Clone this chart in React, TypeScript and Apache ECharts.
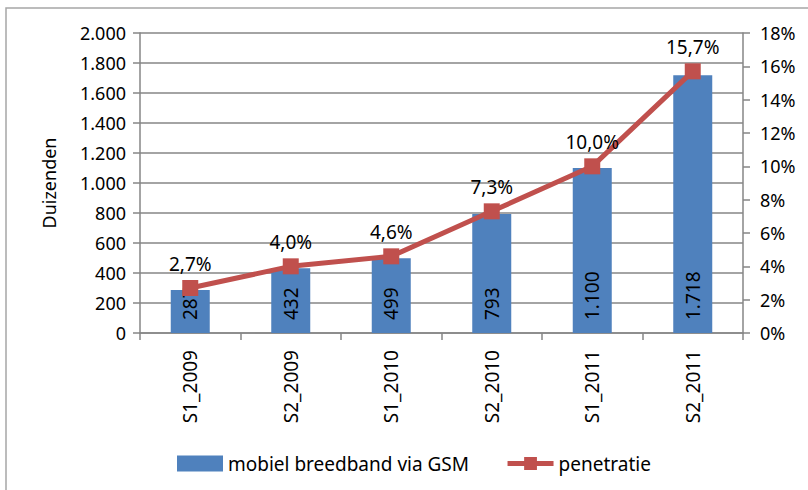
import React, { useEffect, useRef } from "react";
import * as echarts from "echarts";

const categories = ["S1_2009", "S2_2009", "S1_2010", "S2_2010", "S1_2011", "S2_2011"];
const breedband = [287, 432, 499, 793, 1100, 1718];
const penetratie = [2.7, 4.0, 4.6, 7.3, 10.0, 15.7];
const barName = "mobiel breedband via GSM";
const lineName = "penetratie";
const yAxisName = "Duizenden";

const FONT = "Noto Sans";
const fmtThousands = (v: number) =>
  String(Math.round(v)).replace(/\B(?=(\d{3})+(?!\d))/g, ".");

export default function App() {
  const ref = useRef<HTMLDivElement>(null);
  useEffect(() => {
    if (!ref.current) return;
    const chart = echarts.init(ref.current, null, { renderer: "svg" });
    const axisGray = "#868686";
    chart.setOption({
      animation: false,
      backgroundColor: "#ffffff",
      textStyle: { fontFamily: FONT, color: "#000" },
      graphic: [
        {
          type: "rect",
          shape: { x: 6, y: 8, width: 820, height: 500 },
          style: { fill: "none", stroke: "#a6a6a6", lineWidth: 1.5 },
          silent: true,
        },
      ],
      grid: { left: 140, right: 65, top: 33, bottom: 157 },
      legend: {
        left: 172,
        top: 449,
        itemWidth: 46,
        itemHeight: 16,
        itemGap: 36,
        lineStyle: { width: 5 },
        textStyle: { fontFamily: FONT, fontSize: 19, color: "#000" },
        data: [
          { name: barName, icon: "rect" },
          { name: lineName },
        ],
      },
      xAxis: {
        type: "category",
        data: categories,
        boundaryGap: true,
        axisLine: { lineStyle: { color: axisGray, width: 1.5 } },
        axisTick: { show: true, alignWithLabel: false, length: 7, lineStyle: { color: axisGray, width: 1.5 } },
        axisLabel: { rotate: 90, margin: 17, fontSize: 19, fontFamily: FONT, color: "#000", interval: 0 },
        splitLine: { show: false },
      },
      yAxis: [
        {
          type: "value",
          min: 0,
          max: 2000,
          interval: 200,
          name: yAxisName,
          nameLocation: "middle",
          nameRotate: 90,
          nameGap: 82,
          nameTextStyle: { fontFamily: FONT, fontSize: 18, color: "#000", align: "center" },
          axisLine: { show: true, lineStyle: { color: axisGray, width: 1.5 } },
          axisTick: { show: true, length: 7, lineStyle: { color: axisGray, width: 1.5 } },
          axisLabel: { fontSize: 18, fontFamily: FONT, color: "#000", margin: 14, formatter: (v: number) => fmtThousands(v) },
          splitLine: { show: true, lineStyle: { color: axisGray, width: 1.5 } },
        },
        {
          type: "value",
          min: 0,
          max: 18,
          interval: 2,
          position: "right",
          axisLine: { show: true, lineStyle: { color: axisGray, width: 1.5 } },
          axisTick: { show: true, length: 7, lineStyle: { color: axisGray, width: 1.5 } },
          axisLabel: { fontSize: 18, fontFamily: FONT, color: "#000", margin: 17, formatter: (v: number) => `${v}%` },
          splitLine: { show: false },
        },
      ],
      series: [
        {
          name: barName,
          type: "bar",
          data: breedband,
          barWidth: 39,
          itemStyle: { color: "#4F81BD" },
          label: {
            show: true,
            position: "insideBottom",
            rotate: 90,
            align: "left",
            verticalAlign: "middle",
            distance: 13,
            fontSize: 19,
            fontFamily: FONT,
            color: "#000",
            formatter: (p: any) => fmtThousands(p.value),
          },
        },
        {
          name: lineName,
          type: "line",
          yAxisIndex: 1,
          data: penetratie,
          symbol: "rect",
          symbolSize: 16,
          lineStyle: { color: "#C0504D", width: 5 },
          itemStyle: { color: "#C0504D" },
          label: {
            show: true,
            position: "top",
            distance: 7,
            fontSize: 19,
            fontFamily: FONT,
            color: "#000",
            formatter: (p: any) => `${Number(p.value).toFixed(1).replace(".", ",")}%`,
          },
        },
      ],
    });
    return () => chart.dispose();
  }, []);
  return <div ref={ref} style={{ width: 808, height: 490, position: "absolute", left: 0, top: 0 }} />;
}
